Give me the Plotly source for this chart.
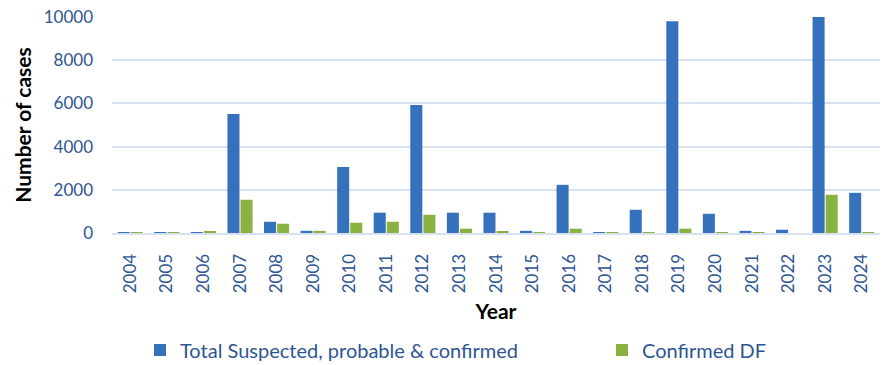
import plotly.graph_objects as go

years = [str(y) for y in range(2004, 2025)]
total_cases = [30, 30, 30, 5510, 520, 100, 3060, 940, 5925, 940, 940, 100, 2230, 30, 1075, 9800, 890, 100, 150, 10100, 1860]
confirmed_df = [20, 20, 80, 1540, 430, 100, 475, 520, 845, 200, 80, 30, 200, 30, 20, 200, 20, 30, 0, 1770, 20]
y_ticks = [0, 2000, 4000, 6000, 8000, 10000]

FONT = "Lato"
TICK_COLOR = "#2E5594"

fig = go.Figure()
fig.add_trace(go.Bar(x=years, y=total_cases, name="Total Suspected, probable & confirmed",
                     legendwidth=417,
                     marker=dict(color="#3571BC", line=dict(width=0))))
fig.add_trace(go.Bar(x=years, y=confirmed_df, name="Confirmed DF",
                     legendwidth=130,
                     marker=dict(color="#8BB240", line=dict(width=0))))

fig.update_layout(
    width=886, height=365,
    margin=dict(l=112, r=6, t=17, b=132),
    paper_bgcolor="white", plot_bgcolor="white",
    barmode="group", bargap=0.284, bargroupgap=0.08,
    font=dict(family=FONT, color=TICK_COLOR),
    showlegend=True,
    legend=dict(orientation="h", xref="container", yref="container",
                x=140/886, xanchor="left", y=1-(350/365), yanchor="middle",
                font=dict(family=FONT, size=20, color=TICK_COLOR),
                bgcolor="rgba(0,0,0,0)"),
)
fig.update_xaxes(
    type="category", tickangle=-90, showgrid=False,
    showline=True, linecolor="#D6E1F1", linewidth=2,
    tickfont=dict(family=FONT, size=17, color=TICK_COLOR),
    ticklabelstandoff=12,
    title=dict(text="<b>Year</b>", font=dict(family=FONT, size=21, color="black"), standoff=12),
)
fig.update_yaxes(
    range=[0, 10000], tickvals=y_ticks, ticktext=[str(v) for v in y_ticks],
    showgrid=True, gridcolor="#D6E1F1", gridwidth=2, zeroline=False,
    tickfont=dict(family=FONT, size=17, color=TICK_COLOR),
    ticklabelstandoff=18,
    title=dict(text="<b>Number of cases</b>", font=dict(family=FONT, size=21, color="black"), standoff=6),
)

fig.write_html("out.html")
